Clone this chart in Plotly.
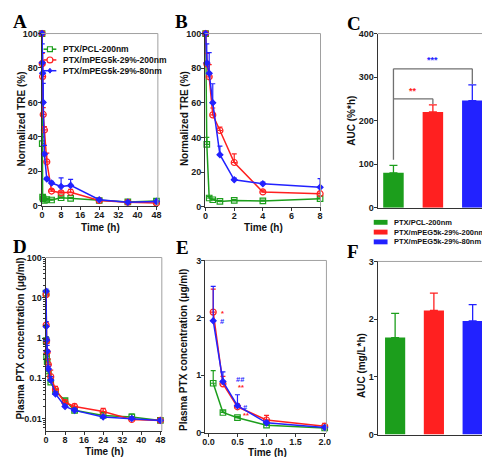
import plotly.graph_objects as go

# ---------------- data ----------------
names = ["PTX/PCL-200nm", "PTX/mPEG5k-29%-200nm", "PTX/mPEG5k-29%-80nm"]
colors = ["#1c9e1c", "#ff2020", "#2222ff"]
symbols = ["square-open", "circle-open", "diamond"]
msizes = [5.5, 6, 4.5]

# Panel A/B: normalized TRE (%)
tre_time = [0, 0.083, 0.25, 0.5, 1, 2, 4, 8, 12, 24, 36, 48]
tre_green = [100, 36, 5, 4, 3, 3.6, 3.3, 4.6, 4.2, 3.0, 2.2, 2.7]
tre_green_err = [0, 4, 1, 0.5, 0.5, 0.5, 0.5, 0.5, 0.5, 0.5, 0.5, 0.5]
tre_red = [100, 82.5, 75, 53, 44, 25.5, 8.5, 7.5, 7.8, 3.0, 2.0, 1.5]
tre_red_err = [0, 6, 7, 4, 2, 5, 1, 1, 1.7, 0.5, 0.5, 0.5]
tre_blue = [100, 83, 77, 60, 30, 15.5, 13.2, 11.2, 11.8, 3.5, 2.0, 2.5]
tre_blue_err = [0, 11, 12, 11, 5, 1, 1, 5, 3.5, 0.5, 0.5, 0.5]

# Panel C: AUC of TRE (%*h)
auc_tre = [80, 220, 246]
auc_tre_err = [17, 16, 36]

# Panel D: plasma PTX concentration (ug/ml), full time course
pk_time = [0.033, 0.083, 0.25, 0.5, 1, 2, 4, 8, 12, 24, 36, 48]
pk_green = [13, 0.86, 0.35, 0.26, 0.13, 0.08, 0.047, 0.028, 0.016, 0.012, 0.011, 0.009]
pk_green_err = [2, 0.22, 0.03, 0.02, 0.02, 0.02, 0.005, 0.003, 0.002, 0.002, 0.002, 0.001]
pk_red = [12, 2.1, 0.85, 0.45, 0.22, 0.11, 0.053, 0.025, 0.02, 0.015, 0.0095, 0.009]
pk_red_err = [2, 0.4, 0.13, 0.05, 0.08, 0.05, 0.01, 0.004, 0.003, 0.003, 0.001, 0.001]
pk_blue = [14.5, 1.95, 0.89, 0.47, 0.17, 0.09, 0.041, 0.02, 0.016, 0.011, 0.010, 0.009]
pk_blue_err = [2, 0.6, 0.17, 0.19, 0.03, 0.02, 0.005, 0.002, 0.002, 0.001, 0.001, 0.001]

# Panel E: early plasma time points
e_time = [0.083, 0.25, 0.5, 1, 2]
e_green = [0.86, 0.35, 0.26, 0.13, 0.08]
e_green_err = [0.22, 0.03, 0.02, 0.02, 0.02]
e_red = [2.1, 0.85, 0.45, 0.22, 0.11]
e_red_err = [0.4, 0.13, 0.05, 0.08, 0.05]
e_blue = [1.95, 0.89, 0.47, 0.17, 0.09]
e_blue_err = [0.6, 0.17, 0.19, 0.03, 0.02]

# Panel F: plasma AUC (mg/L*h)
auc_pk = [1.68, 2.15, 1.97]
auc_pk_err = [0.42, 0.30, 0.28]

# significance marks in E: (text, x, y, series index)
e_marks = [("*", 0.25, 2.08, 1), ("#", 0.25, 1.94, 2), ("##", 0.555, 0.93, 2),
           ("**", 0.565, 0.78, 1), ("#", 0.63, 0.43, 2), ("**", 0.65, 0.29, 1)]

# ---------------- layout helpers ----------------
W, H = 490, 457
def px(x): return x / W
def py(y): return 1 - y / H

FONT = "Liberation Sans"
tickfont = dict(family=FONT, size=9, color="#1a1a1a", weight="bold")

def axis(dom, **kw):
    d = dict(domain=dom, showline=True, linecolor="#333", linewidth=1, ticks="outside",
             ticklen=3, tickwidth=1, tickcolor="#333", showgrid=False, zeroline=False,
             tickfont=tickfont, ticklabelstandoff=-2)
    d.update(kw)
    return d

fig = go.Figure()

def add_lines(xa, ya, t, series, errs, tmax=None):
    for i, (vals, err) in enumerate(zip(series, errs)):
        xs, ys, es = [], [], []
        for a, b, c in zip(t, vals, err):
            if tmax is None or a <= tmax:
                xs.append(a); ys.append(b); es.append(c)
        fig.add_trace(go.Scatter(
            x=xs, y=ys, xaxis=xa, yaxis=ya, mode="lines+markers", name=names[i],
            showlegend=False, cliponaxis=False,
            line=dict(color=colors[i], width=1.5),
            marker=dict(symbol=symbols[i], size=msizes[i], color=colors[i],
                        line=dict(color=colors[i], width=1.2)),
            error_y=dict(type="data", array=es, arrayminus=[0] * len(es), symmetric=False,
                         color=colors[i], thickness=1.2, width=2.5)))

# A
add_lines("x", "y", tre_time, [tre_green, tre_red, tre_blue],
          [tre_green_err, tre_red_err, tre_blue_err])
# B
add_lines("x2", "y2", tre_time, [tre_green, tre_red, tre_blue],
          [tre_green_err, tre_red_err, tre_blue_err], tmax=8)
# D
add_lines("x4", "y4", pk_time, [pk_green, pk_red, pk_blue],
          [pk_green_err, pk_red_err, pk_blue_err])
# E
add_lines("x5", "y5", e_time, [e_green, e_red, e_blue],
          [e_green_err, e_red_err, e_blue_err])

# bar panels C and F
for xa, ya, vals, errs in [("x3", "y3", auc_tre, auc_tre_err), ("x6", "y6", auc_pk, auc_pk_err)]:
    for i in range(3):
        fig.add_trace(go.Bar(
            x=[i], y=[vals[i]], xaxis=xa, yaxis=ya, width=0.52, name=names[i],
            showlegend=False, marker=dict(color=colors[i], line=dict(width=0)),
            error_y=dict(type="data", array=[errs[i]], arrayminus=[0], symmetric=False,
                         color=colors[i], thickness=1.3, width=4)))

doms = {
    "A": ([px(31), px(149)], [py(197), py(21)]),
    "B": ([px(197), px(314)], [py(198), py(21)]),
    "C": ([px(372), px(482)], [py(199), py(21)]),
    "D": ([px(35), px(153)], [py(427), py(250)]),
    "E": ([px(197), px(320)], [py(429), py(253)]),
    "F": ([px(372), px(488)], [py(431), py(254)]),
}

minor_log = []
for e in [-3, -2, -1, 0, 1]:
    for m in range(2, 10):
        minor_log.append(m * 10 ** e)

fig.update_layout(
    width=W, height=H, margin=dict(l=0, r=0, t=0, b=0),
    paper_bgcolor="white", plot_bgcolor="white", showlegend=False, barmode="overlay",
    xaxis=axis(doms["A"][0], anchor="y", range=[-0.2, 48.6], tickvals=[0, 8, 16, 24, 32, 40, 48]),
    yaxis=axis(doms["A"][1], anchor="x", range=[0, 100], tickvals=[0, 20, 40, 60, 80, 100]),
    xaxis2=axis(doms["B"][0], anchor="y2", range=[-0.03, 8.03], tickvals=[0, 2, 4, 6, 8]),
    yaxis2=axis(doms["B"][1], anchor="x2", range=[0, 100], tickvals=[0, 20, 40, 60, 80, 100]),
    xaxis3=axis(doms["C"][0], anchor="y3", range=[-0.4, 2.35], showticklabels=False, ticks=""),
    yaxis3=axis(doms["C"][1], anchor="x3", range=[0, 400], tickvals=[0, 100, 200, 300, 400]),
    xaxis4=axis(doms["D"][0], anchor="y4", range=[-0.2, 48.6], tickvals=[0, 8, 16, 24, 32, 40, 48]),
    yaxis4=axis(doms["D"][1], anchor="x4", type="log", range=[-2.3, 2],
                tickvals=[0.01, 0.1, 1, 10, 100], ticktext=["0.01", "0.1", "1", "10", "100"],
                minor=dict(tickmode="array", tickvals=minor_log, ticks="outside", ticklen=2,
                           tickcolor="#333")),
    xaxis5=axis(doms["E"][0], anchor="y5", range=[-0.055, 2.03], tickvals=[0, 0.5, 1, 1.5, 2],
                ticktext=["0.0", "0.5", "1.0", "1.5", "2.0"]),
    yaxis5=axis(doms["E"][1], anchor="x5", range=[0, 3], tickvals=[0, 1, 2, 3]),
    xaxis6=axis(doms["F"][0], anchor="y6", range=[-0.45, 2.5], showticklabels=False, ticks=""),
    yaxis6=axis(doms["F"][1], anchor="x6", range=[0, 3], tickvals=[0, 1, 2, 3]),
)

shapes = []
annots = []
# top/right box lines
for k, (dx, dy) in doms.items():
    shapes.append(dict(type="line", xref="paper", yref="paper", x0=dx[0], x1=dx[1], y0=dy[1], y1=dy[1],
                       line=dict(color="#a0a0a0", width=1)))
    shapes.append(dict(type="line", xref="paper", yref="paper", x0=dx[1], x1=dx[1], y0=dy[0], y1=dy[1],
                       line=dict(color="#a0a0a0", width=1)))

# significance brackets in C
gray = "#707070"
for (x0, y0, x1, y1) in [(0, 110, 0, 319), (0, 319, 2, 319), (2, 319, 2, 284),
                         (0, 250, 1, 250), (1, 250, 1, 238)]:
    shapes.append(dict(type="line", xref="x3", yref="y3", x0=x0, x1=x1, y0=y0, y1=y1,
                       line=dict(color=gray, width=1.3)))
annots.append(dict(x=1, y=322, xref="x3", yref="y3", text="***", showarrow=False, yanchor="bottom",
                   font=dict(family=FONT, size=9, color=colors[2], weight="bold")))
annots.append(dict(x=0.5, y=252, xref="x3", yref="y3", text="**", showarrow=False, yanchor="bottom",
                   font=dict(family=FONT, size=9, color=colors[1], weight="bold")))

# significance marks in E
for txt, x, y, ci in e_marks:
    annots.append(dict(x=x, y=y, xref="x5", yref="y5", text=txt, showarrow=False, xanchor="center",
                       yanchor="middle", borderpad=0,
                       font=dict(family=FONT, size=7.5, color=colors[ci], weight="bold")))

# axis titles
tfont = dict(family=FONT, size=10, color="#111", weight="bold")
def title(x, y, text, rot=0):
    annots.append(dict(x=px(x), y=py(y), xref="paper", yref="paper", text=text, showarrow=False,
                       textangle=rot, font=tfont, xanchor="center", yanchor="middle"))
title(11, 108, "Normalized TRE (%)", -90)
title(91, 219, "Time (h)")
title(176, 108, "Normalized TRE (%)", -90)
title(256, 219, "Time (h)")
title(346, 110, "AUC (%*h)", -90)
title(10, 333, "Plasma PTX concentration (μg/ml)", -90)
title(95, 448, "Time (h)")
title(175, 345, "Plasma PTX concentration (μg/ml)", -90)
title(260, 449, "Time (h)")
title(355, 360, "AUC (mg/L*h)", -90)

# panel letters
lfont = dict(family="Liberation Serif", size=19, color="#000", weight="bold")
for letter, x, y in [("A", 9, 9), ("B", 173, 9), ("C", 348, 11), ("D", 9, 239), ("E", 174, 240), ("F", 347, 244)]:
    annots.append(dict(x=px(x), y=py(y), xref="paper", yref="paper", text=letter, showarrow=False,
                       font=lfont, xanchor="center", yanchor="middle", borderpad=0))

# legend for A (manual)
legfont = dict(family=FONT, size=8.5, color="#111", weight="bold")
for i, yy in enumerate([37, 48, 59]):
    shapes.append(dict(type="line", xref="paper", yref="paper", x0=px(33), x1=px(46), y0=py(yy), y1=py(yy),
                       line=dict(color=colors[i], width=1.5)))
    cx = 39.5
    if i == 0:
        shapes.append(dict(type="rect", xref="paper", yref="paper", x0=px(cx - 2.5), x1=px(cx + 2.5),
                           y0=py(yy + 2.5), y1=py(yy - 2.5), line=dict(color=colors[i], width=1.2),
                           fillcolor="white"))
    elif i == 1:
        shapes.append(dict(type="circle", xref="paper", yref="paper", x0=px(cx - 3), x1=px(cx + 3),
                           y0=py(yy + 3), y1=py(yy - 3), line=dict(color=colors[i], width=1.2),
                           fillcolor="white"))
    else:
        path = "M {} {} L {} {} L {} {} L {} {} Z".format(px(cx), py(yy - 2.5), px(cx + 2), py(yy),
                                                       px(cx), py(yy + 2.5), px(cx - 2), py(yy))
        shapes.append(dict(type="path", xref="paper", yref="paper", path=path,
                           line=dict(color=colors[i], width=1), fillcolor=colors[i]))
    annots.append(dict(x=px(51), y=py(yy), xref="paper", yref="paper", text=names[i], showarrow=False,
                       xanchor="left", yanchor="middle", font=legfont))

# legend for bars (manual)
leg2font = dict(family=FONT, size=7.5, color="#111", weight="bold")
for i, yy in enumerate([214, 224, 234]):
    shapes.append(dict(type="rect", xref="paper", yref="paper", x0=px(368), x1=px(382),
                       y0=py(yy + 2.5), y1=py(yy - 2.5), line=dict(width=0), fillcolor=colors[i]))
    annots.append(dict(x=px(387), y=py(yy), xref="paper", yref="paper", text=names[i], showarrow=False,
                       xanchor="left", yanchor="middle", font=leg2font))

fig.update_layout(shapes=shapes, annotations=annots)
fig.write_html("out.html")
